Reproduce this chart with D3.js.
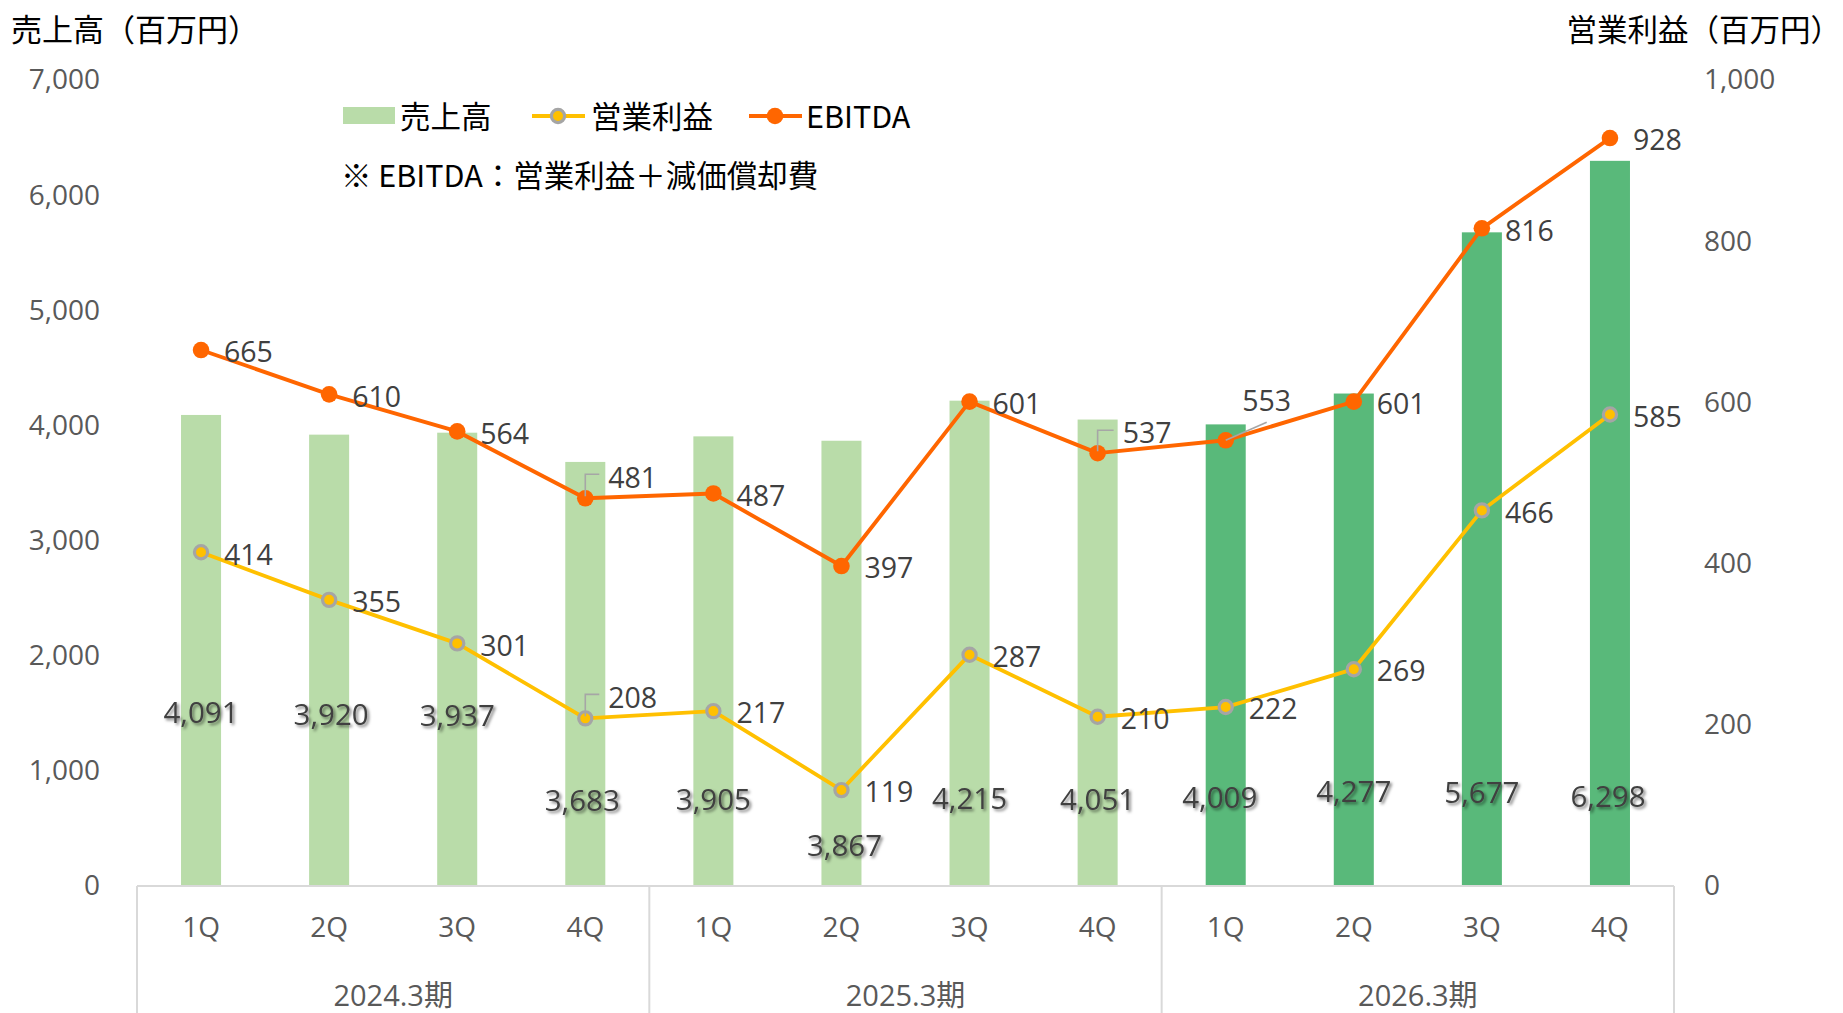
<!DOCTYPE html>
<html lang="ja">
<head>
<meta charset="utf-8">
<script src="https://cdn.jsdelivr.net/npm/d3@7"></script>
<style>
  html, body { margin: 0; padding: 0; background: #fff; }
  svg { display: block; }
  .num { font-family: "Open Sans", "Noto Sans CJK JP", sans-serif; }
  .jp { font-family: "Noto Sans CJK JP", "Noto Sans", sans-serif; }
</style>
</head>
<body>
<svg id="chart" width="1843" height="1013"></svg>
<script>
// ---------------- data ----------------
const periods = ["2024.3期", "2025.3期", "2026.3期"];
const quarters = ["1Q", "2Q", "3Q", "4Q"];
const sales = [4091, 3920, 3937, 3683, 3905, 3867, 4215, 4051, 4009, 4277, 5677, 6298];
const operatingIncome = [414, 355, 301, 208, 217, 119, 287, 210, 222, 269, 466, 585];
const ebitda = [665, 610, 564, 481, 487, 397, 601, 537, 553, 601, 816, 928];
const leftTicks = [0, 1000, 2000, 3000, 4000, 5000, 6000, 7000];
const rightTicks = [0, 200, 400, 600, 800, 1000];
const leftTitle = "売上高（百万円）";
const rightTitle = "営業利益（百万円）";
const legendNames = ["売上高", "営業利益", "EBITDA"];
const noteText = "※ EBITDA：営業利益＋減価償却費";

// ---------------- layout (not data) ----------------
const W = 1843, H = 1013;
const plot = { left: 137, right: 1674, top: 80, bottom: 886 };
// manual data-label placement (px) as in the original
const salesLabelRise = [174, 172, 171, 86, 87, 41, 88, 87, 89, 95, 94, 90];
const salesLabelDx = [0, 2, 0, -3, 0, 3, 0, 0, -6, 0, 0, -2];
const lineLabelSpecial = {
  op: { 3: { dx: 23, dy: -21, leader: "elbow" } },
  eb: { 3: { dx: 23, dy: -21, leader: "elbow" },
        7: { dx: 25, dy: -20, leader: "elbow" },
        8: { dx: 41, dy: -40, leader: "diag", anchor: "middle" } }
};

const C = {
  barLight: "#B9DCA9",
  barDark: "#59B97A",
  op: "#FFC000",
  opStroke: "#A5A5A5",
  eb: "#FF6600",
  tick: "#595959",
  label: "#404040",
  axis: "#D9D9D9",
  leader: "#A6A6A6"
};
const JP_SIZE = 30.5;

// ---------------- build rows ----------------
const rows = [];
periods.forEach((p, pi) => quarters.forEach((q, qi) => {
  const i = pi * quarters.length + qi;
  rows.push({ key: p + "-" + q, period: p, pi, quarter: q, i,
    sales: sales[i], op: operatingIncome[i], eb: ebitda[i] });
}));

const svg = d3.select("#chart");

const defs = svg.append("defs");
const f = defs.append("filter").attr("id", "shadow")
  .attr("x", "-20%").attr("y", "-20%").attr("width", "150%").attr("height", "160%");
f.append("feDropShadow").attr("dx", 2).attr("dy", 2).attr("stdDeviation", 1.6)
  .attr("flood-color", "#000").attr("flood-opacity", 0.5);

// ---------------- scales ----------------
const x = d3.scaleBand().domain(rows.map(d => d.key))
  .range([plot.left, plot.right]).paddingInner(0).paddingOuter(0);
const xc = k => x(k) + x.bandwidth() / 2;
const barW = x.bandwidth() * 0.3125;
const yL = d3.scaleLinear().domain([0, 7000]).range([plot.bottom, plot.top]);
const yR = d3.scaleLinear().domain([0, 1000]).range([plot.bottom, plot.top]);

// ---------------- axes ----------------
const axL = svg.append("g").attr("class", "num")
  .attr("transform", `translate(100,0)`)
  .call(d3.axisLeft(yL).tickValues(leftTicks).tickFormat(d3.format(",")).tickSize(0).tickPadding(0));
axL.select(".domain").remove();
axL.selectAll("text").attr("fill", C.tick).style("font-size", "28px")
  .style("font-family", '"Open Sans", sans-serif');

const axR = svg.append("g").attr("class", "num")
  .attr("transform", `translate(1704,0)`)
  .call(d3.axisRight(yR).tickValues(rightTicks).tickFormat(d3.format(",")).tickSize(0).tickPadding(0));
axR.select(".domain").remove();
axR.selectAll("text").attr("fill", C.tick).style("font-size", "28px")
  .style("font-family", '"Open Sans", sans-serif');

// axis titles
svg.append("text").attr("class", "jp").attr("x", 11).attr("y", 30).attr("dy", "0.36em")
  .attr("font-size", JP_SIZE + 0.5).attr("fill", "#000").text(leftTitle);
svg.append("text").attr("class", "jp").attr("x", 1841).attr("y", 30).attr("dy", "0.36em")
  .attr("text-anchor", "end")
  .attr("font-size", JP_SIZE).attr("fill", "#000").text(rightTitle);

// ---------------- bars ----------------
svg.append("g").selectAll("rect").data(rows).join("rect")
  .attr("x", d => xc(d.key) - barW / 2)
  .attr("width", barW)
  .attr("y", d => yL(d.sales))
  .attr("height", d => yL(0) - yL(d.sales))
  .attr("fill", d => d.pi === periods.length - 1 ? C.barDark : C.barLight);

// ---------------- category axis box ----------------
const axisG = svg.append("g");
axisG.append("line").attr("x1", plot.left).attr("x2", plot.right)
  .attr("y1", plot.bottom).attr("y2", plot.bottom)
  .attr("stroke", C.axis).attr("stroke-width", 2);
const sepKeys = periods.map(p => p + "-" + quarters[0]);
const sepX = sepKeys.map(k => x(k)).concat([plot.right]);
sepX.forEach(sx => axisG.append("line")
  .attr("x1", sx).attr("x2", sx).attr("y1", plot.bottom).attr("y2", H)
  .attr("stroke", C.axis).attr("stroke-width", 2));

axisG.selectAll("text.q").data(rows).join("text").attr("class", "q num")
  .attr("x", d => xc(d.key)).attr("y", 927).attr("dy", "0.36em")
  .attr("text-anchor", "middle").attr("font-size", 28).attr("fill", C.tick)
  .text(d => d.quarter);
axisG.selectAll("text.p").data(periods).join("text").attr("class", "p num")
  .attr("x", (p, i) => (sepX[i] + sepX[i + 1]) / 2).attr("y", 996).attr("dy", "0.36em")
  .attr("text-anchor", "middle").attr("font-size", 29).attr("fill", C.tick)
  .text(p => p);

// ---------------- lines ----------------
function drawLine(field, color, width) {
  const line = d3.line().x(d => xc(d.key)).y(d => yR(d[field]));
  svg.append("path").datum(rows).attr("d", line)
    .attr("fill", "none").attr("stroke", color).attr("stroke-width", width)
    .attr("stroke-linejoin", "round").attr("stroke-linecap", "round");
}
drawLine("op", C.op, 3.8);
drawLine("eb", C.eb, 3.9);

svg.append("g").selectAll("circle").data(rows).join("circle")
  .attr("cx", d => xc(d.key)).attr("cy", d => yR(d.op)).attr("r", 6.6)
  .attr("fill", C.op).attr("stroke", C.opStroke).attr("stroke-width", 3.2);
svg.append("g").selectAll("circle").data(rows).join("circle")
  .attr("cx", d => xc(d.key)).attr("cy", d => yR(d.eb)).attr("r", 8.3)
  .attr("fill", C.eb);

// ---------------- data labels ----------------
svg.append("g").selectAll("text").data(rows).join("text").attr("class", "num")
  .attr("x", d => xc(d.key) + salesLabelDx[d.i])
  .attr("y", d => plot.bottom - salesLabelRise[d.i]).attr("dy", "0.36em")
  .attr("text-anchor", "middle").attr("font-size", 29.5).attr("fill", C.label)
  .attr("filter", "url(#shadow)")
  .text(d => d3.format(",")(d.sales));

function lineLabels(field, specials) {
  const g = svg.append("g");
  rows.forEach(d => {
    const px = xc(d.key), py = yR(d[field]);
    const s = specials[d.i];
    const dx = s ? s.dx : 23, dy = s ? s.dy : 2;
    if (s && s.leader === "elbow") {
      g.append("path")
        .attr("d", `M${px},${py - 2} L${px},${py + dy - 3} L${px + dx - 9},${py + dy - 3}`)
        .attr("fill", "none").attr("stroke", C.leader).attr("stroke-width", 1.6);
    } else if (s && s.leader === "diag") {
      g.append("path")
        .attr("d", `M${px},${py} L${px + dx},${py + dy + 22}`)
        .attr("fill", "none").attr("stroke", C.leader).attr("stroke-width", 1.6);
    }
    g.append("text").attr("class", "num")
      .attr("x", px + dx).attr("y", py + dy).attr("dy", "0.36em")
      .attr("text-anchor", s && s.anchor ? s.anchor : "start")
      .attr("font-size", 28.5).attr("fill", C.label)
      .text(d[field]);
  });
}
lineLabels("op", lineLabelSpecial.op);
lineLabels("eb", lineLabelSpecial.eb);

// ---------------- legend ----------------
const lg = svg.append("g");
lg.append("rect").attr("x", 343).attr("y", 107).attr("width", 52).attr("height", 17).attr("fill", C.barLight);
lg.append("text").attr("class", "jp").attr("x", 400).attr("y", 117).attr("dy", "0.36em")
  .attr("font-size", JP_SIZE).attr("fill", "#000").text(legendNames[0]);
lg.append("line").attr("x1", 532).attr("x2", 585).attr("y1", 116).attr("y2", 116)
  .attr("stroke", C.op).attr("stroke-width", 3.8);
lg.append("circle").attr("cx", 558).attr("cy", 116).attr("r", 6.6)
  .attr("fill", C.op).attr("stroke", C.opStroke).attr("stroke-width", 3.2);
lg.append("text").attr("class", "jp").attr("x", 591).attr("y", 117).attr("dy", "0.36em")
  .attr("font-size", JP_SIZE).attr("fill", "#000").text(legendNames[1]);
lg.append("line").attr("x1", 749).attr("x2", 802).attr("y1", 116).attr("y2", 116)
  .attr("stroke", C.eb).attr("stroke-width", 3.9);
lg.append("circle").attr("cx", 775).attr("cy", 116).attr("r", 8.3).attr("fill", C.eb);
lg.append("text").attr("class", "jp").attr("x", 806).attr("y", 117).attr("dy", "0.36em")
  .attr("font-size", JP_SIZE).attr("fill", "#000").text(legendNames[2]);

svg.append("text").attr("class", "jp").attr("x", 341).attr("y", 176).attr("dy", "0.36em")
  .attr("font-size", JP_SIZE).attr("fill", "#000").text(noteText);
</script>
</body>
</html>
